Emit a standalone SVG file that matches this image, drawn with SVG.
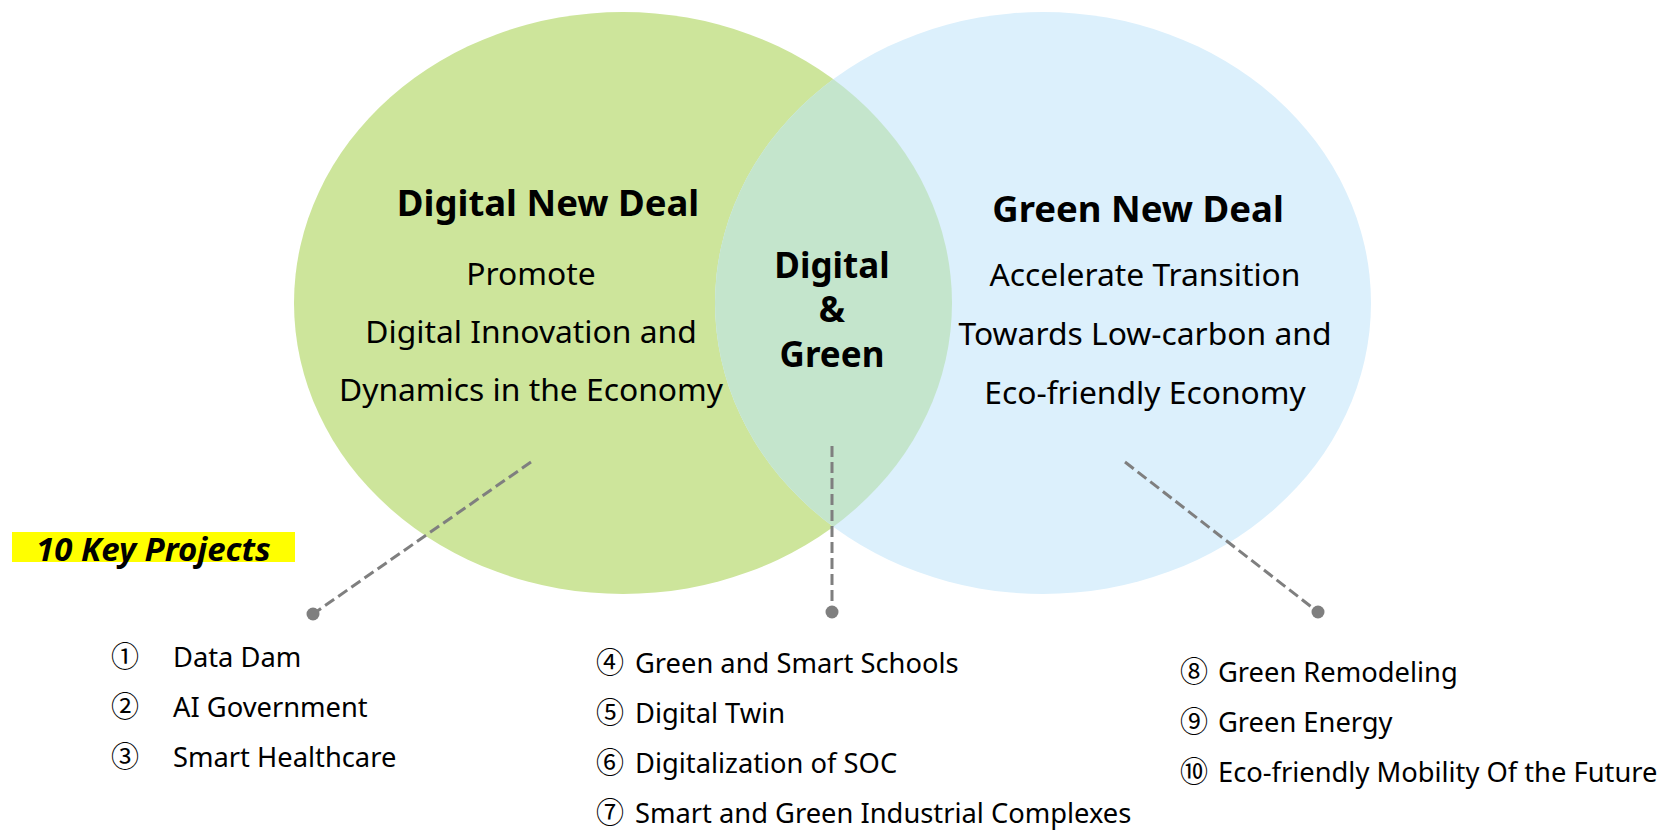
<svg xmlns="http://www.w3.org/2000/svg" width="1672" height="831" viewBox="0 0 1672 831">
<style>
text{font-family:"Noto Sans","Noto Sans CJK KR",sans-serif;fill:#000}
.title{font-weight:bold;font-size:36.5px;text-anchor:middle}
.center{font-weight:bold;font-size:35px;text-anchor:middle}
.sub{font-size:31.8px;text-anchor:middle}
.item{font-size:27.3px}
.num{font-size:28px}
.conn{stroke:#7F7F7F;stroke-width:3;stroke-dasharray:11 5;fill:none}
.dot{fill:#7F7F7F}
</style>
<defs>
<clipPath id="clipGreen"><ellipse cx="623" cy="303" rx="329" ry="291"/></clipPath>
</defs>
<g id="digital-circle">
<ellipse cx="623" cy="303" rx="329" ry="291" fill="#CDE59B"/>
</g>
<g id="green-circle">
<ellipse cx="1043" cy="303" rx="328" ry="291" fill="#DCF0FC"/>
</g>
<g id="overlap">
<ellipse cx="1043" cy="303" rx="328" ry="291" fill="#C4E5CC" clip-path="url(#clipGreen)"/>
</g>
<g id="digital-label">
<text class="title" x="548" y="216">Digital New Deal</text>
<text class="sub" x="531" y="285">Promote</text>
<text class="sub" x="531" y="343">Digital Innovation and</text>
<text class="sub" x="531" y="401">Dynamics in the Economy</text>
</g>
<g id="green-label">
<text class="title" x="1138" y="222">Green New Deal</text>
<text class="sub" x="1145" y="286">Accelerate Transition</text>
<text class="sub" x="1145" y="345">Towards Low-carbon and</text>
<text class="sub" x="1145" y="404">Eco-friendly Economy</text>
</g>
<g id="overlap-label">
<text class="center" x="832" y="278">Digital</text>
<text class="center" x="832" y="322">&amp;</text>
<text class="center" x="832" y="367">Green</text>
</g>
<g id="connectors">
<line class="conn" x1="531" y1="462" x2="313" y2="614"/>
<circle class="dot" cx="313" cy="614" r="6.5"/>
<line class="conn" x1="832" y1="446" x2="832" y2="612"/>
<circle class="dot" cx="832" cy="612" r="6.5"/>
<line class="conn" x1="1125" y1="462" x2="1318" y2="612"/>
<circle class="dot" cx="1318" cy="612" r="6.5"/>
</g>
<g id="key-projects">
<rect x="12" y="532" width="283" height="30" fill="#FFFF00"/>
<text x="36" y="561" font-size="33" font-weight="bold" font-style="italic">10 Key Projects</text>
</g>
<g id="digital-projects">
<text class="num" x="111" y="667">①</text><text class="item" x="173" y="667">Data Dam</text>
<text class="num" x="111" y="717">②</text><text class="item" x="173" y="717">AI Government</text>
<text class="num" x="111" y="767">③</text><text class="item" x="173" y="767">Smart Healthcare</text>
</g>
<g id="both-projects">
<text class="num" x="596" y="673">④</text><text class="item" x="635" y="673">Green and Smart Schools</text>
<text class="num" x="596" y="723">⑤</text><text class="item" x="635" y="723">Digital Twin</text>
<text class="num" x="596" y="773">⑥</text><text class="item" x="635" y="773">Digitalization of SOC</text>
<text class="num" x="596" y="823">⑦</text><text class="item" x="635" y="823">Smart and Green Industrial Complexes</text>
</g>
<g id="green-projects">
<text class="num" x="1180" y="682">⑧</text><text class="item" x="1218" y="682">Green Remodeling</text>
<text class="num" x="1180" y="732">⑨</text><text class="item" x="1218" y="732">Green Energy</text>
<text class="num" x="1180" y="782">⑩</text><text class="item" x="1218" y="782">Eco-friendly Mobility Of the Future</text>
</g>
</svg>
